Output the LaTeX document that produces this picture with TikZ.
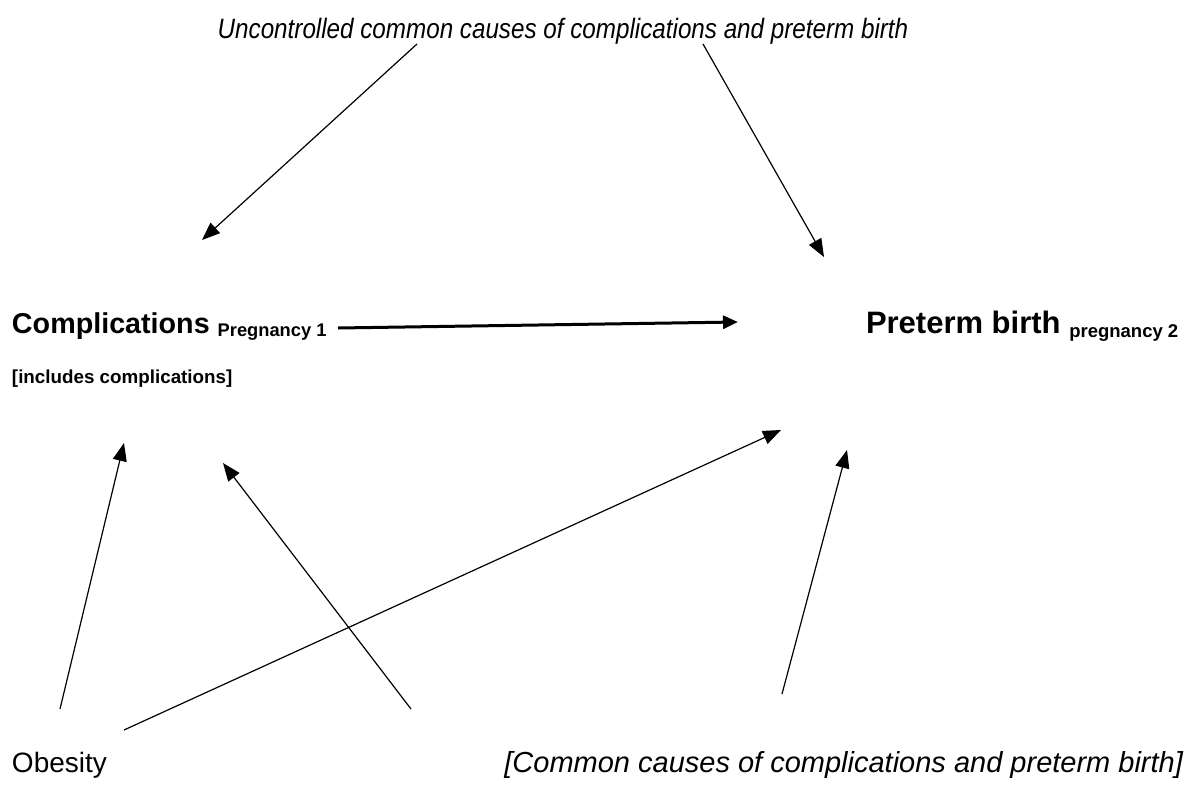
\documentclass[tikz,border=0pt]{standalone}
\usepackage{fontspec}
\setmainfont{Liberation Sans}
\usetikzlibrary{arrows.meta}
\begin{document}
\begin{tikzpicture}[x=1pt,y=-1pt,
  lbl/.style={inner sep=0pt,outer sep=0pt},
  thinarrow/.style={line width=1.2pt,-{Triangle[length=18pt,width=14pt]}},
  thickarrow/.style={line width=3pt,-{Triangle[length=15pt,width=13pt]}}]
\useasboundingbox[fill=white] (0,0) rectangle (1189,790);
% text nodes
\node[lbl,anchor=base] (unc) at (563,38)
  {\fontsize{28}{32}\selectfont\scalebox{0.865}[1]{\itshape Uncontrolled common causes of complications and preterm birth}};
\node[lbl,anchor=base west] (comp) at (12,333)
  {\fontsize{28.7}{32}\selectfont\bfseries Complications \raisebox{-3pt}{\fontsize{18.3}{20}\selectfont Pregnancy 1}};
\node[lbl,anchor=base west] (incl) at (12,383)
  {\fontsize{18.8}{20}\selectfont\bfseries [includes complications]};
\node[lbl,anchor=base west] (pre) at (866,333)
  {\fontsize{31}{32}\selectfont\bfseries Preterm birth \raisebox{-4pt}{\fontsize{18.5}{20}\selectfont pregnancy 2}};
\node[lbl,anchor=base west] (obe) at (12,772)
  {\fontsize{28}{32}\selectfont Obesity};
\node[lbl,anchor=base east] (cc) at (1183,772)
  {\fontsize{29}{32}\selectfont\itshape [Common causes of complications and preterm birth]};
% connector end points
\coordinate (u1) at (417,44);
\coordinate (u2) at (703,44);
\coordinate (c1) at (202,240);
\coordinate (p1) at (824,257);
\coordinate (cs) at (338,328);
\coordinate (pe) at (738,322);
\coordinate (o1) at (60,709);
\coordinate (o2) at (124,730);
\coordinate (c2) at (124,443);
\coordinate (p2) at (781,430);
\coordinate (m1) at (411,709);
\coordinate (c3) at (223,463);
\coordinate (m2) at (782,694);
\coordinate (p3) at (847,450);
% connectors
\draw[thinarrow] (u1) -- (c1);
\draw[thinarrow] (u2) -- (p1);
\draw[thickarrow] (cs) -- (pe);
\draw[thinarrow] (o1) -- (c2);
\draw[thinarrow] (o2) -- (p2);
\draw[thinarrow] (m1) -- (c3);
\draw[thinarrow] (m2) -- (p3);
\end{tikzpicture}
\end{document}
